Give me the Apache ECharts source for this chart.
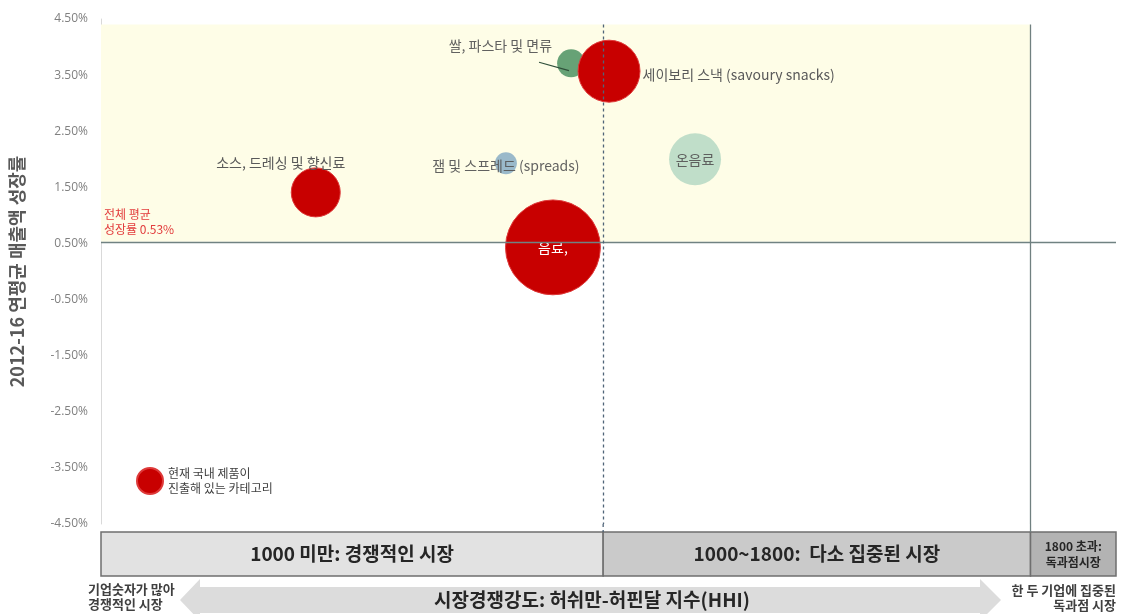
<!DOCTYPE html>
<html>
<head>
<meta charset="utf-8">
<script src="https://cdn.jsdelivr.net/npm/echarts@6/dist/echarts.min.js"></script>
<style>
  html, body { margin: 0; padding: 0; background: #ffffff; }
  #chart { width: 1124px; height: 614px; }
</style>
</head>
<body>
<div id="chart"></div>
<script>
// Food categories: market concentration (HHI) vs. 2012-16 average sales growth
const categories = ['쌀, 파스타 및 면류', '세이보리 스낵 (savoury snacks)', '잼 및 스프레드 (spreads)', '온음료', '음료,', '소스, 드레싱 및 향신료'];
const hhi        = [940, 1011, 818, 1172, 906, 462];
const growth     = [3.71, 3.57, 1.93, 2.00, 0.43, 1.41];
const marketSize = [780, 3840, 480, 2700, 9000, 2400];
const domestic   = [false, true, false, false, true, true];

const avgGrowth = 0.53;
const yMin = -4.5, yMax = 4.5, yStep = 1;
const hhiMin = 60, hhiMax = 1960;

// HHI bands shown under the plot
const bandStarts = [60, 1000, 1800];
const bandEnds   = [1000, 1800, 1960];
const bandLabels = ['1000 미만: 경쟁적인 시장', '1000~1800:  다소 집중된 시장', '1800 초과:\n독과점시장'];

const legendName = '현재 국내 제품이\n진출해 있는 카테고리';
const FONT = '"Noto Sans CJK KR", "Noto Sans", sans-serif';

// per-category appearance
const otherColors = { 0: '#5f9d70', 2: '#95b5c8', 3: '#bddcc7' };
const labelStyles = {
  0: { position: 'inside', align: 'right', offset: [-19, -18] },
  1: { position: 'right', distance: 2, offset: [0, 4] },
  2: { position: 'inside', offset: [0, 2] },
  3: { position: 'inside' },
  4: { position: 'inside', color: '#ffffff' },
  5: { position: 'inside', offset: [-35, -30] }
};

function point(i) {
  return {
    name: categories[i],
    value: [hhi[i], growth[i], marketSize[i]],
    label: Object.assign({ show: true, formatter: '{b}', color: '#595959', fontSize: 14 }, labelStyles[i]),
    itemStyle: domestic[i] ? undefined : { color: otherColors[i], opacity: 0.95 }
  };
}
const domesticData = [], otherData = [];
categories.forEach((c, i) => (domestic[i] ? domesticData : otherData).push(point(i)));

const riceIdx = 0;
const bandData = bandStarts.map((s, i) => [s, bandEnds[i], i]);
const bandFills = ['#e2e2e2', '#cacaca', '#b3b3b3'];

const chart = echarts.init(document.getElementById('chart'));
chart.setOption({
  animation: false,
  backgroundColor: '#ffffff',
  textStyle: { fontFamily: FONT },
  legend: {
    data: [legendName],
    left: 131, top: 461,
    itemWidth: 26, itemHeight: 26,
    selectedMode: false,
    textStyle: { color: '#404040', fontSize: 12, lineHeight: 15, fontFamily: FONT }
  },
  grid: [
    { left: 101, right: 8, top: 19, bottom: 90, containLabel: false, outerBoundsMode: 'none' },
    { left: 101, right: 8, top: 524, height: 52, containLabel: false, outerBoundsMode: 'none' }
  ],
  xAxis: [
    { type: 'value', gridIndex: 0, min: hhiMin, max: hhiMax, show: false },
    { type: 'value', gridIndex: 1, min: hhiMin, max: hhiMax, show: false }
  ],
  yAxis: [
    {
      type: 'value', gridIndex: 0, min: yMin, max: yMax, interval: yStep,
      name: '2012-16 연평균 매출액 성장률',
      nameLocation: 'middle', nameRotate: 90, nameGap: 75,
      nameTextStyle: { color: '#595959', fontSize: 18, fontWeight: 'bold', fontFamily: FONT },
      axisLine: { show: true, lineStyle: { color: '#d9d9d9', width: 1 } },
      axisTick: { show: false },
      splitLine: { show: false },
      axisLabel: {
        color: '#808080', fontSize: 12, margin: 13,
        fontFamily: '"Open Sans", sans-serif',
        formatter: v => v.toFixed(2) + '%'
      }
    },
    { type: 'value', gridIndex: 1, min: 0, max: 1, show: false }
  ],
  graphic: [
    {
      // two-headed arrow for the competition-intensity scale
      type: 'polygon', z: 0, silent: true,
      shape: { points: [[180, 600], [200, 579], [200, 587], [980, 587], [980, 579], [1001, 600], [980, 621], [980, 613], [200, 613], [200, 621]] },
      style: { fill: '#dcdcdc' }
    },
    {
      type: 'text', z: 5, silent: true, x: 592, y: 600,
      style: { text: '시장경쟁강도: 허쉬만-허핀달 지수(HHI)', fill: '#262626', font: 'bold 19px ' + FONT, align: 'center', verticalAlign: 'middle' }
    },
    {
      type: 'text', z: 5, silent: true, x: 88, y: 582,
      style: { text: '기업숫자가 많아\n경쟁적인 시장', fill: '#404040', font: 'bold 13px ' + FONT, lineHeight: 15 }
    },
    {
      type: 'text', z: 5, silent: true, x: 1116, y: 583,
      style: { text: '한 두 기업에 집중된\n독과점 시장', fill: '#404040', font: 'bold 13px ' + FONT, lineHeight: 15, align: 'right' }
    }
  ],
  series: [
    {
      // quadrant background and reference lines
      type: 'scatter', xAxisIndex: 0, yAxisIndex: 0, data: [], z: 1, silent: true,
      markArea: {
        silent: true,
        itemStyle: { color: '#fefde7' },
        data: [[{ coord: [hhiMin, avgGrowth] }, { coord: [1800, 4.4] }]]
      },
      markLine: {
        silent: true, symbol: ['none', 'none'],
        data: [
          {
            yAxis: avgGrowth,
            lineStyle: { color: '#708282', width: 1.3, type: 'solid' },
            label: {
              show: true, position: 'insideStartTop', distance: [3, 5],
              formatter: '전체 평균\n성장률 0.53%',
              color: '#e23b3b', fontSize: 12, lineHeight: 15, align: 'left'
            }
          },
          [
            { coord: [1000, 4.4], lineStyle: { color: '#4f6478', width: 1.3, type: [3, 3] }, label: { show: false } },
            { coord: [1000, yMin] }
          ],
          [
            { coord: [1800, 4.4], lineStyle: { color: '#708080', width: 1.3, type: 'solid' }, label: { show: false } },
            { coord: [1800, yMin] }
          ]
        ]
      }
    },
    {
      name: 'others', type: 'scatter', xAxisIndex: 0, yAxisIndex: 0, z: 2,
      symbolSize: v => Math.sqrt(v[2]),
      data: otherData,
      markLine: {
        silent: true, symbol: ['none', 'none'],
        lineStyle: { color: '#2f4f3a', width: 1.2, type: 'solid' },
        label: { show: false },
        data: [[
          { coord: [hhi[riceIdx] - 60, growth[riceIdx] + 0.02] },
          { coord: [hhi[riceIdx] - 4, growth[riceIdx] - 0.13] }
        ]]
      }
    },
    {
      name: legendName, type: 'scatter', xAxisIndex: 0, yAxisIndex: 0, z: 3,
      symbolSize: v => Math.sqrt(v[2]),
      itemStyle: { color: '#c80000', borderColor: '#de3a3a', borderWidth: 1, opacity: 1 },
      data: domesticData
    },
    {
      type: 'custom', xAxisIndex: 1, yAxisIndex: 1, silent: true, clip: false,
      data: bandData,
      renderItem: function (params, api) {
        const i = api.value(2);
        const x0 = api.coord([api.value(0), 0])[0];
        const x1 = api.coord([api.value(1), 0])[0];
        const cs = params.coordSys;
        const top = cs.y + 8, h = 44;
        const children = [{
          type: 'rect',
          shape: { x: x0, y: top, width: x1 - x0, height: h },
          style: { fill: bandFills[i], stroke: '#6f6f6f', lineWidth: 1.5 }
        }, {
          type: 'text',
          style: {
            text: bandLabels[i], x: (x0 + x1) / 2, y: top + h / 2,
            align: 'center', verticalAlign: 'middle',
            fill: '#262626', font: (i === 2 ? 'bold 12px ' : 'bold 19px ') + FONT,
            lineHeight: i === 2 ? 16 : 22
          }
        }];
        if (i > 0) {
          children.push({
            type: 'line',
            shape: { x1: x0, y1: cs.y, x2: x0, y2: top },
            style: i === 1 ? { stroke: '#4f6478', lineWidth: 1.3, lineDash: [3, 3] } : { stroke: '#708080', lineWidth: 1.3 }
          });
        }
        return { type: 'group', children: children };
      }
    }
  ]
});
</script>
</body>
</html>
